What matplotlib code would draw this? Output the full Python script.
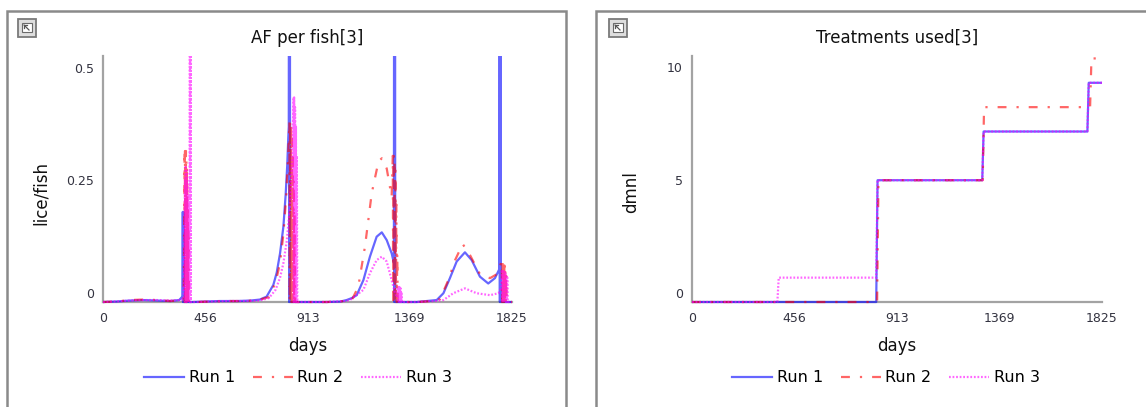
import numpy as np
import matplotlib
matplotlib.use("Agg")
import matplotlib.pyplot as plt
from matplotlib.patches import Rectangle
from matplotlib.lines import Line2D
import matplotlib.transforms as mtransforms

plt.rcParams['font.family'] = ['DejaVu Sans']

# ---------------- data ----------------
x_ticks = [0, 456, 913, 1369, 1825]
af_yticks = [0, 0.25, 0.5]
af_ytick_labels = ["0", "0.25", "0.5"]
tr_yticks = [0, 5, 10]
tr_ytick_labels = ["0", "5", "10"]
run_names = ["Run 1", "Run 2", "Run 3"]

# AF per fish (lice/fish), (day, value) for each run
af_run1 = [(0, 0), (60, 0.001), (120, 0.003), (180, 0.004), (240, 0.003), (300, 0.002),
           (340, 0.004), (352, 0.01), (355, 0.012), (356, 0.185), (357, 0.0), (358, 0.185),
           (359, 0.0), (360, 0.183), (361, 0.0), (400, 0), (460, 0.001), (520, 0.002),
           (600, 0.002), (660, 0.003), (700, 0.005), (730, 0.011), (760, 0.035), (775, 0.06),
           (790, 0.1), (805, 0.155), (815, 0.22), (822, 0.28), (827, 0.34), (829, 0.36),
           (830, 0.8), (831, 0), (832, 0.8), (833, 0), (834, 0.8), (835, 0), (900, 0),
           (1000, 0), (1060, 0.001), (1087, 0.004), (1110, 0.008), (1132, 0.014),
           (1162, 0.045), (1191, 0.093), (1221, 0.134), (1244, 0.143), (1266, 0.127),
           (1288, 0.10), (1295, 0.086), (1298, 0.08), (1299, 0.8), (1300, 0), (1301, 0.8),
           (1302, 0), (1303, 0.8), (1304, 0), (1400, 0), (1489, 0.004), (1519, 0.018),
           (1548, 0.049), (1578, 0.083), (1615, 0.102), (1645, 0.086), (1682, 0.052),
           (1719, 0.038), (1749, 0.049), (1767, 0.066), (1769, 0.07), (1770, 0.8), (1771, 0),
           (1772, 0.8), (1773, 0), (1774, 0.8), (1775, 0), (1825, 0)]

af_run2 = [(0, 0), (60, 0.001), (120, 0.004), (180, 0.005), (240, 0.004), (300, 0.002),
           (340, 0.003), (360, 0.005), (364, 0.31), (365, 0), (366, 0.31), (367, 0),
           (368, 0.3), (369, 0), (370, 0.31), (371, 0), (372, 0.29), (373, 0), (374, 0.28),
           (375, 0), (376, 0.25), (377, 0), (378, 0.2), (379, 0), (381, 0.15), (383, 0),
           (420, 0), (480, 0.001), (560, 0.002), (640, 0.002), (700, 0.005), (740, 0.01),
           (770, 0.04), (790, 0.08), (805, 0.14), (818, 0.22), (826, 0.3), (832, 0.37),
           (833, 0), (835, 0.37), (837, 0), (839, 0.36), (841, 0), (843, 0.34), (845, 0),
           (847, 0.3), (849, 0), (851, 0.25), (853, 0), (855, 0.18), (857, 0), (900, 0),
           (1000, 0), (1080, 0.002), (1110, 0.004), (1139, 0.031), (1169, 0.114),
           (1199, 0.223), (1229, 0.288), (1244, 0.295), (1266, 0.274), (1288, 0.216),
           (1293, 0.3), (1295, 0), (1297, 0.3), (1299, 0), (1301, 0.29), (1303, 0),
           (1305, 0.27), (1307, 0), (1309, 0.2), (1311, 0), (1313, 0.1), (1315, 0),
           (1400, 0), (1470, 0.002), (1504, 0.006), (1541, 0.045), (1571, 0.086),
           (1605, 0.119), (1638, 0.096), (1682, 0.057), (1727, 0.049), (1757, 0.057),
           (1772, 0.075), (1779, 0.083), (1781, 0), (1783, 0.08), (1785, 0), (1787, 0.08),
           (1789, 0), (1791, 0.075), (1793, 0), (1795, 0.07), (1797, 0), (1799, 0.06),
           (1801, 0), (1825, 0)]

af_run3 = [(0, 0), (60, 0.001), (120, 0.003), (180, 0.004), (240, 0.004), (300, 0.003),
           (340, 0.004), (360, 0.006), (366, 0.25), (367, 0), (369, 0.28), (370, 0),
           (372, 0.27), (373, 0), (375, 0.25), (376, 0), (378, 0.22), (379, 0), (381, 0.2),
           (382, 0), (387, 0), (388, 0.8), (388.2, 0), (388.4, 0.8), (388.6, 0), (388.8, 0.8),
           (389, 0), (389.2, 0.8), (389.4, 0), (389.6, 0.8), (389.8, 0), (390, 0.8),
           (390.2, 0), (420, 0), (480, 0.001), (560, 0.002), (640, 0.002), (700, 0.003),
           (740, 0.008), (770, 0.025), (790, 0.05), (805, 0.08), (820, 0.125), (835, 0.2),
           (845, 0.3), (850, 0.42), (851, 0), (853, 0.42), (855, 0), (857, 0.4), (859, 0),
           (861, 0.36), (863, 0), (865, 0.3), (867, 0), (900, 0), (1000, 0), (1080, 0.002),
           (1102, 0.004), (1162, 0.025), (1191, 0.059), (1221, 0.086), (1244, 0.093),
           (1266, 0.083), (1288, 0.045), (1303, 0.018), (1312, 0.01), (1316, 0.03),
           (1318, 0), (1320, 0.031), (1322, 0), (1324, 0.03), (1326, 0), (1328, 0.028),
           (1330, 0), (1332, 0.02), (1334, 0), (1400, 0), (1480, 0.002), (1519, 0.004),
           (1563, 0.018), (1615, 0.028), (1667, 0.018), (1727, 0.014), (1764, 0.018),
           (1778, 0.03), (1780, 0.066), (1782, 0), (1784, 0.066), (1786, 0), (1788, 0.065),
           (1790, 0), (1792, 0.062), (1794, 0), (1796, 0.06), (1798, 0), (1800, 0.055),
           (1802, 0), (1804, 0.05), (1806, 0), (1825, 0)]

# Treatments used (dmnl), cumulative count per run
tr_run1 = [(0, 0), (820, 0), (826, 5), (1292, 5), (1298, 7), (1760, 7), (1766, 9), (1825, 9)]
tr_run2 = [(0, 0), (824, 0), (830, 5), (1294, 5), (1300, 8), (1772, 8), (1778, 10), (1825, 10)]
tr_run3 = [(0, 0), (380, 0), (386, 1), (820, 1), (826, 5), (1292, 5), (1298, 7),
           (1760, 7), (1766, 9), (1825, 9)]

# ---------------- styles ----------------
run_styles = [
    dict(color=(0.0, 0.0, 1.0, 0.6), lw=1.6, ls='-'),
    dict(color=(1.0, 0.0, 0.0, 0.6), lw=1.6, ls=(0, (4, 4.5, 1, 4.5))),
    dict(color=(1.0, 0.0, 1.0, 0.6), lw=1.6, ls=(0, (0.8, 0.8))),
]

W, H = 1146, 407
fig = plt.figure(figsize=(W / 100, H / 100), dpi=100)
fig.patch.set_facecolor('white')


def px_rect(x0, y_top, x1, y_bottom):
    return [x0 / W, 1 - y_bottom / H, (x1 - x0) / W, (y_bottom - y_top) / H]


def draw_frame(x0, x1):
    fig.add_artist(Rectangle((x0 / W, -0.2), (x1 - x0) / W, 1.2 - 11 / H,
                             transform=fig.transFigure, fill=False,
                             ec='#8a8a8a', lw=1.8, zorder=0))


def draw_icon(x0, y0):
    s = 18
    fig.add_artist(Rectangle((x0 / W, 1 - (y0 + s) / H), s / W, s / H,
                             transform=fig.transFigure, fc='#dedede', ec='#7a7a7a', lw=1.3))
    fig.add_artist(Rectangle(((x0 + 4) / W, 1 - (y0 + 13) / H), 10 / W, 9 / H,
                             transform=fig.transFigure, fc='white', ec='#6a6a6a', lw=0.8))
    fig.add_artist(Line2D([(x0 + 6) / W, (x0 + 11) / W], [1 - (y0 + 6) / H, 1 - (y0 + 11) / H],
                          transform=fig.transFigure, color='#555555', lw=0.9))
    fig.add_artist(Line2D([(x0 + 6) / W, (x0 + 6) / W, (x0 + 9) / W],
                          [1 - (y0 + 9) / H, 1 - (y0 + 6) / H, 1 - (y0 + 6) / H],
                          transform=fig.transFigure, color='#555555', lw=0.9))


draw_frame(7, 566)
draw_frame(596, 1170)
draw_icon(18, 19)
draw_icon(609, 19)


def setup_axes(ax, title, ylabel, yticks, yticklabels, ylim, label_shift_px):
    ax.set_xlim(0, 1825)
    ax.set_ylim(*ylim)
    for side in ('top', 'right'):
        ax.spines[side].set_visible(False)
    for side in ('left', 'bottom'):
        ax.spines[side].set_color('#a3a3a3')
        ax.spines[side].set_linewidth(1.6)
    ax.set_xticks(x_ticks)
    ax.set_xticklabels([str(t) for t in x_ticks])
    ax.set_yticks(yticks)
    ax.set_yticklabels(yticklabels)
    ax.tick_params(axis='both', length=0, labelsize=9, labelcolor='#333340')
    ax.tick_params(axis='x', pad=7.5)
    ax.tick_params(axis='y', pad=6.6)
    # value labels at the ends of the value axis sit just inside the axis range
    ticks = ax.yaxis.get_major_ticks()
    off_up = mtransforms.ScaledTranslation(0, label_shift_px[0] / 100, fig.dpi_scale_trans)
    off_dn = mtransforms.ScaledTranslation(0, -label_shift_px[1] / 100, fig.dpi_scale_trans)
    ticks[0].label1.set_transform(ticks[0].label1.get_transform() + off_up)
    ticks[-1].label1.set_transform(ticks[-1].label1.get_transform() + off_dn)

    ax.set_title(title, fontsize=12, y=1 + 18 / 246, pad=0, va='center', color='#111111')
    ax.set_xlabel('days', fontsize=12, color='#111111')
    ax.xaxis.set_label_coords(0.5, -44 / 246)
    ax.xaxis.label.set_va('center')
    ax.set_ylabel(ylabel, fontsize=12, color='#111111')
    ax.yaxis.label.set_va('center')
    ax.patch.set_alpha(0)


def plot_runs(ax, runs):
    clip = Rectangle((0, -0.04), 1, 1.04, transform=ax.transAxes, visible=False)
    ax.add_patch(clip)
    handles = []
    for data, st, name in zip(runs, run_styles, run_names):
        d = np.array(data, dtype=float)
        line, = ax.plot(d[:, 0], d[:, 1], color=st['color'], lw=st['lw'],
                        ls=st['ls'], label=name, zorder=3)
        line.set_clip_path(clip)
        handles.append(line)
    return handles


ax1 = fig.add_axes(px_rect(103, 56, 512, 302))
ax2 = fig.add_axes(px_rect(692, 56, 1102, 302))

h1 = plot_runs(ax1, [af_run1, af_run2, af_run3])
setup_axes(ax1, 'AF per fish[3]', 'lice/fish', af_yticks, af_ytick_labels,
           (0, 0.505), (9, 9.6))
ax1.yaxis.set_label_coords(-62 / 409, 0.443)

h2 = plot_runs(ax2, [tr_run1, tr_run2, tr_run3])
setup_axes(ax2, 'Treatments used[3]', 'dmnl', tr_yticks, tr_ytick_labels,
           (0, 10.1), (9, 8.6))
ax2.yaxis.set_label_coords(-60.5 / 410, 0.447)

legend_kw = dict(loc='center', ncol=3, frameon=False, fontsize=11.5,
                 handlelength=2.5, handletextpad=0.3, columnspacing=1.1,
                 bbox_transform=fig.transFigure)
ax1.legend(handles=h1, bbox_to_anchor=(298 / W, 1 - 378 / H), **legend_kw)
ax2.legend(handles=h2, bbox_to_anchor=(886 / W, 1 - 378 / H), **legend_kw)

fig.savefig('out.png', dpi=100, facecolor='white')
